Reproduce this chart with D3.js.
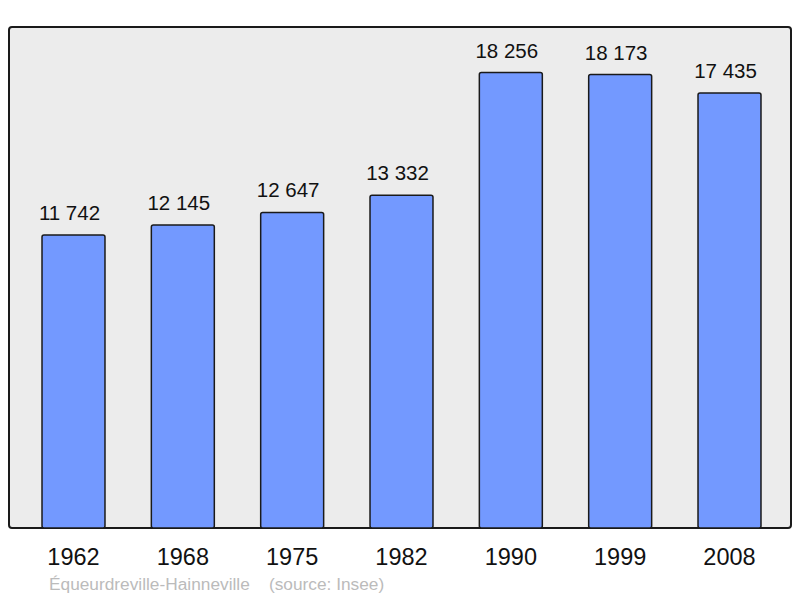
<!DOCTYPE html>
<html><head><meta charset="utf-8">
<script src="https://cdn.jsdelivr.net/npm/d3@7"></script>
<style>body{margin:0;background:#fff}svg{display:block}</style>
</head><body>
<script>
const years = ["1962","1968","1975","1982","1990","1999","2008"];
const population = [11742,12145,12647,13332,18256,18173,17435];
const commune = "Équeurdreville-Hainneville";
const source = "(source: Insee)";

const W = 800, H = 598;
const svg = d3.select("body").append("svg").attr("width", W).attr("height", H);

svg.append("rect").attr("x", 9).attr("y", 27).attr("width", 782).attr("height", 501)
  .attr("rx", 3).attr("fill", "#ececec").attr("stroke", "#1a1a1a").attr("stroke-width", 2);

const x = d3.scaleBand().domain(years).range([18.83, 784.17]).paddingInner(0.424).paddingOuter(0.212);
const y = d3.scaleLinear().domain([0, 20000]).range([528, 29]);

const fmt = v => d3.format(",")(v).replace(/,/g, " ");

svg.selectAll("rect.bar").data(population).join("rect").attr("class","bar")
  .attr("x", (d,i) => x(years[i])).attr("y", d => y(d))
  .attr("width", x.bandwidth()).attr("height", d => y(0) - y(d))
  .attr("rx", 2).attr("fill", "#7399ff").attr("stroke", "#1a1a1a").attr("stroke-width", 1.5);

svg.selectAll("text.val").data(population).join("text").attr("class","val")
  .attr("x", (d,i) => x(years[i]) + x.bandwidth()/2 - 4).attr("y", d => y(d) - 15)
  .attr("text-anchor","middle").attr("font-family","Liberation Sans, Arial, sans-serif")
  .attr("font-size", 20.5).attr("fill","#111").text(d => fmt(d));

const xAxis = svg.append("g").attr("transform","translate(0,528)")
  .call(d3.axisBottom(x).tickSize(0).tickPadding(20));
xAxis.select(".domain").remove();
xAxis.selectAll("text").attr("font-family","Liberation Sans, Arial, sans-serif")
  .attr("font-size", 23.5).attr("fill","#111");

svg.append("text").attr("x", 49).attr("y", 590)
  .attr("font-family","Liberation Sans, Arial, sans-serif").attr("font-size", 17.3)
  .attr("fill","#bbbbbb").attr("xml:space","preserve")
  .text(commune + "    " + source);
</script>
</body></html>
